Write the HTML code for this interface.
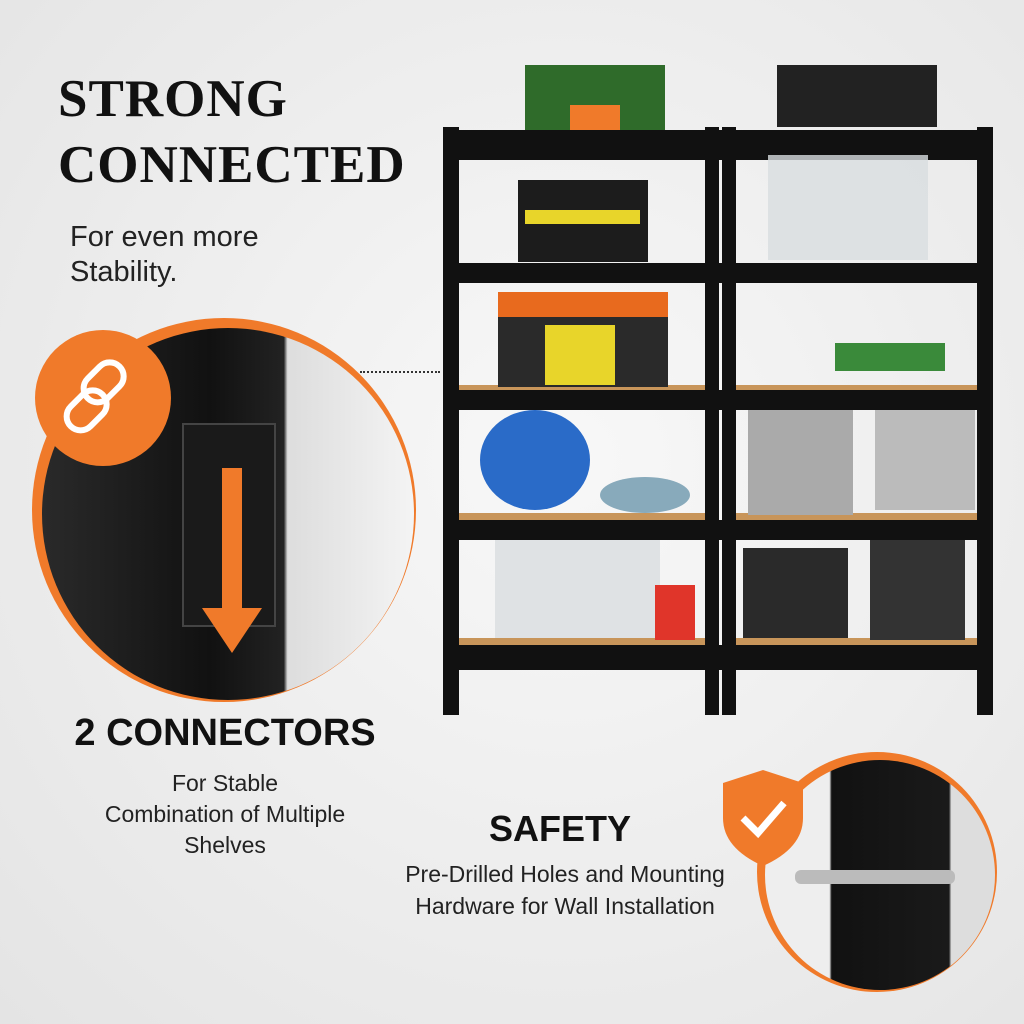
<!DOCTYPE html>
<html><head><meta charset="utf-8"><style>
body{margin:0;width:1024px;height:1024px;overflow:hidden;background:radial-gradient(circle at 55% 45%,#f8f8f8,#e4e4e4);font-family:"Liberation Sans",sans-serif;position:relative}
.a{position:absolute}
.t{font-family:"Liberation Serif",serif;font-weight:bold;font-size:53px;color:#111;line-height:66px;left:58px;top:66px;letter-spacing:1px}
.c{text-align:center;color:#111}
</style></head><body>
<div class="a t">STRONG<br>CONNECTED</div>
<div class="a" style="left:70px;top:220px;font-size:29px;line-height:35px;color:#222">For even more<br>Stability.</div>

<div class="a" style="left:32px;top:318px;width:384px;height:384px;border-radius:50%;background:#f07a2a"></div>
<div class="a" style="left:42px;top:328px;width:372px;height:372px;border-radius:50%;background:linear-gradient(90deg,#2a2a2a 0%,#111 45%,#222 65%,#ddd 66%,#f4f4f4 100%);overflow:hidden">
 <div class="a" style="left:140px;top:95px;width:90px;height:200px;background:#1a1a1a;border:2px solid #444"></div>
 <svg class="a" style="left:150px;top:130px" width="80" height="210"><path d="M30 10 V150 H10 L40 195 L70 150 H50 V10Z" fill="#f07a2a"/></svg>
</div>
<div class="a" style="left:35px;top:330px;width:136px;height:136px;border-radius:50%;background:#f07a2a"></div>
<svg class="a" style="left:35px;top:330px" width="136" height="136"><g stroke="#fff" stroke-width="6" fill="none"><rect x="55" y="30" width="28" height="45" rx="14" transform="rotate(45 69 52)"/><rect x="38" y="58" width="28" height="45" rx="14" transform="rotate(45 52 80)"/></g></svg>
<div class="a" style="left:360px;top:371px;width:80px;border-top:2px dotted #333"></div>

<div class="a c" style="left:40px;width:370px;top:712px;font-size:38px;font-weight:bold">2 CONNECTORS</div>
<div class="a c" style="left:60px;width:330px;top:768px;font-size:23px;line-height:31px;color:#222">For Stable<br>Combination of Multiple<br>Shelves</div>

<svg class="a" style="left:440px;top:60px" width="560" height="660">
 <rect x="85" y="5" width="140" height="65" fill="#2f6b2a"/><rect x="130" y="45" width="50" height="25" fill="#f07a2a"/>
 <rect x="337" y="5" width="160" height="62" fill="#222"/>
 <g fill="#111">
  <rect x="3" y="67" width="16" height="588"/><rect x="265" y="67" width="14" height="588"/>
  <rect x="282" y="67" width="14" height="588"/><rect x="537" y="67" width="16" height="588"/>
  <rect x="3" y="70" width="550" height="30"/><rect x="3" y="203" width="550" height="20"/>
  <rect x="3" y="330" width="550" height="20"/><rect x="3" y="460" width="550" height="20"/>
  <rect x="3" y="585" width="550" height="25"/>
 </g>
 <g fill="#c8955a"><rect x="19" y="325" width="246" height="5"/><rect x="296" y="325" width="241" height="5"/><rect x="19" y="453" width="246" height="7"/><rect x="296" y="453" width="241" height="7"/><rect x="19" y="578" width="246" height="7"/><rect x="296" y="578" width="241" height="7"/></g>
 <rect x="78" y="120" width="130" height="82" fill="#1c1c1c"/><rect x="85" y="150" width="115" height="14" fill="#e8d52a"/>
 <rect x="328" y="95" width="160" height="105" fill="#d8dde0" opacity=".8"/>
 <rect x="58" y="232" width="170" height="95" fill="#2a2a2a"/><rect x="58" y="232" width="170" height="25" fill="#e86a1e"/><rect x="105" y="265" width="70" height="60" fill="#e8d52a"/>
 <rect x="395" y="283" width="110" height="28" fill="#3a8a3a"/>
 <ellipse cx="95" cy="400" rx="55" ry="50" fill="#2a6bc8"/><ellipse cx="205" cy="435" rx="45" ry="18" fill="#8ab"/>
 <rect x="308" y="350" width="105" height="105" fill="#aaa"/><rect x="435" y="350" width="100" height="100" fill="#bbb"/>
 <rect x="55" y="480" width="165" height="98" fill="#dfe2e4"/><rect x="215" y="525" width="40" height="55" fill="#e0352a"/>
 <rect x="303" y="488" width="105" height="90" fill="#2a2a2a"/><rect x="430" y="480" width="95" height="100" fill="#333"/>
</svg>

<div class="a c" style="left:400px;width:320px;top:808px;font-size:36px;font-weight:bold">SAFETY</div>
<div class="a c" style="left:380px;width:370px;top:858px;font-size:23px;line-height:32px;color:#222">Pre-Drilled Holes and Mounting<br>Hardware for Wall Installation</div>

<div class="a" style="left:757px;top:752px;width:240px;height:240px;border-radius:50%;background:#f07a2a"></div>
<div class="a" style="left:765px;top:760px;width:230px;height:230px;border-radius:50%;background:linear-gradient(90deg,#eee 0%,#eee 28%,#111 29%,#1a1a1a 80%,#ddd 81%);overflow:hidden"></div>
<svg class="a" style="left:718px;top:768px" width="90" height="100"><path d="M45 2 L85 15 V50 Q85 80 45 98 Q5 80 5 50 V15Z" fill="#f07a2a"/><path d="M25 50 L40 65 L66 35" stroke="#fff" stroke-width="7" fill="none"/></svg>
<div class="a" style="left:795px;top:870px;width:160px;height:14px;background:#bbb;border-radius:6px"></div>
</body></html>
